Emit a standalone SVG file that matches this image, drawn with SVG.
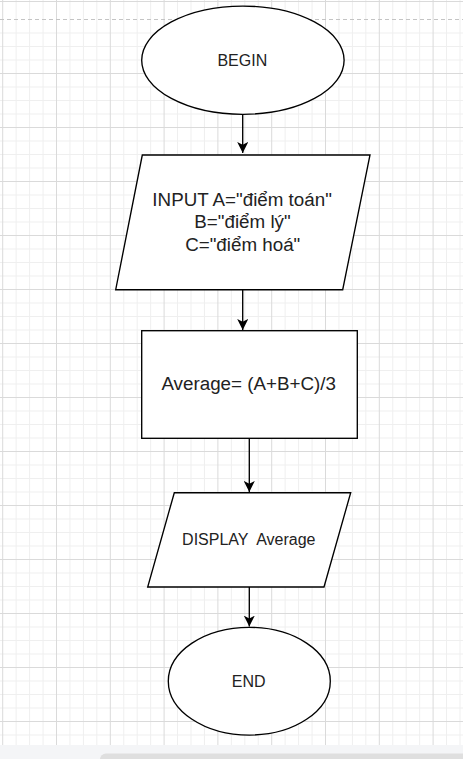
<svg xmlns="http://www.w3.org/2000/svg" width="463" height="759" viewBox="0 0 463 759">
<style>
.minor{stroke:#efefef;stroke-width:1;fill:none}
.major{stroke:#dadada;stroke-width:1;fill:none}
.shape{fill:#ffffff;stroke:#000000;stroke-width:1.35}
.edge{stroke:#000000;stroke-width:1.35;fill:none}
.lbl{font-family:"Liberation Sans",Arial,sans-serif;fill:#222222;text-anchor:middle;white-space:pre}
.big{font-size:18.8px}
.small{font-size:16px}
</style>
<defs>
<marker id="arrow" markerUnits="userSpaceOnUse" viewBox="0 0 11 11" refX="11" refY="5.5" markerWidth="11" markerHeight="11" orient="auto">
<path d="M0,0 L11,5.5 L0,11 L2.8,5.5 Z" fill="#000000"/>
</marker>
</defs>
<rect x="0" y="0" width="463" height="759" fill="#ffffff"/>
<g id="grid">
<path class="minor" d="M16.15,0V745M29.6,0V745M43.05,0V745M69.95,0V745M83.4,0V745M96.85,0V745M123.75,0V745M137.2,0V745M150.65,0V745M177.55,0V745M191,0V745M204.45,0V745M231.35,0V745M244.8,0V745M258.25,0V745M285.15,0V745M298.6,0V745M312.05,0V745M338.95,0V745M352.4,0V745M365.85,0V745M392.75,0V745M406.2,0V745M419.65,0V745M446.55,0V745M460,0V745"/>
<path class="minor" d="M0,33H463M0,46.5H463M0,60H463M0,87H463M0,100.5H463M0,114H463M0,141H463M0,154.5H463M0,168H463M0,195H463M0,208.5H463M0,222H463M0,249H463M0,262.5H463M0,276H463M0,303H463M0,316.5H463M0,330H463M0,357H463M0,370.5H463M0,384H463M0,411H463M0,424.5H463M0,438H463M0,465H463M0,478.5H463M0,492H463M0,519H463M0,532.5H463M0,546H463M0,573H463M0,586.5H463M0,600H463M0,627H463M0,640.5H463M0,654H463M0,681H463M0,694.5H463M0,708H463M0,735H463"/>
<path class="major" d="M2.7,0V745M56.5,0V745M110.3,0V745M164.1,0V745M217.9,0V745M271.7,0V745M325.5,0V745M379.3,0V745M433.1,0V745"/>
<path class="major" d="M0,1.5H463M0,73.5H463M0,127.5H463M0,181.5H463M0,235.5H463M0,289.5H463M0,343.5H463M0,397.5H463M0,451.5H463M0,505.5H463M0,559.5H463M0,613.5H463M0,667.5H463M0,721.5H463"/>
<path d="M0,19.5H463" stroke="#c4c4c4" stroke-width="1" stroke-dasharray="4 3"/>
</g>
<g id="bottom-bar">
<rect x="0" y="745" width="463" height="14" fill="#f4f5f7"/>
<rect x="100" y="753.5" width="375" height="12" rx="6" fill="#dfdfdf"/>
</g>
<g id="connectors">
<path class="edge" d="M242.7,114.3V153" marker-end="url(#arrow)"/>
<path class="edge" d="M242.7,289.7V330" marker-end="url(#arrow)"/>
<path class="edge" d="M249.3,438.3V492" marker-end="url(#arrow)"/>
<path class="edge" d="M249.3,587V626.6" marker-end="url(#arrow)"/>
</g>
<g id="begin">
<ellipse class="shape" cx="242.9" cy="60.2" rx="101.2" ry="54.1"/>
<text class="lbl small" x="242.3" y="66">BEGIN</text>
</g>
<g id="input">
<polygon class="shape" points="142.3,155 370,155 342.7,289.7 115.7,289.7"/>
<text class="lbl big" x="242.1" y="205.7">INPUT A="điểm toán"</text>
<text class="lbl big" x="242.5" y="228.2">B="điểm lý"</text>
<text class="lbl big" x="242.7" y="250.7">C="điểm hoá"</text>
</g>
<g id="average">
<rect class="shape" x="141.7" y="330.7" width="215.6" height="107.6"/>
<text class="lbl big" x="248.7" y="390">Average= (A+B+C)/3</text>
</g>
<g id="display">
<polygon class="shape" points="174.3,492.7 350.7,492.7 324,587 147.7,587"/>
<text class="lbl small" x="248.8" y="545">DISPLAY  Average</text>
</g>
<g id="end">
<ellipse class="shape" cx="249.3" cy="681.2" rx="81" ry="53.9"/>
<text class="lbl small" x="248.7" y="687.3">END</text>
</g>
</svg>
